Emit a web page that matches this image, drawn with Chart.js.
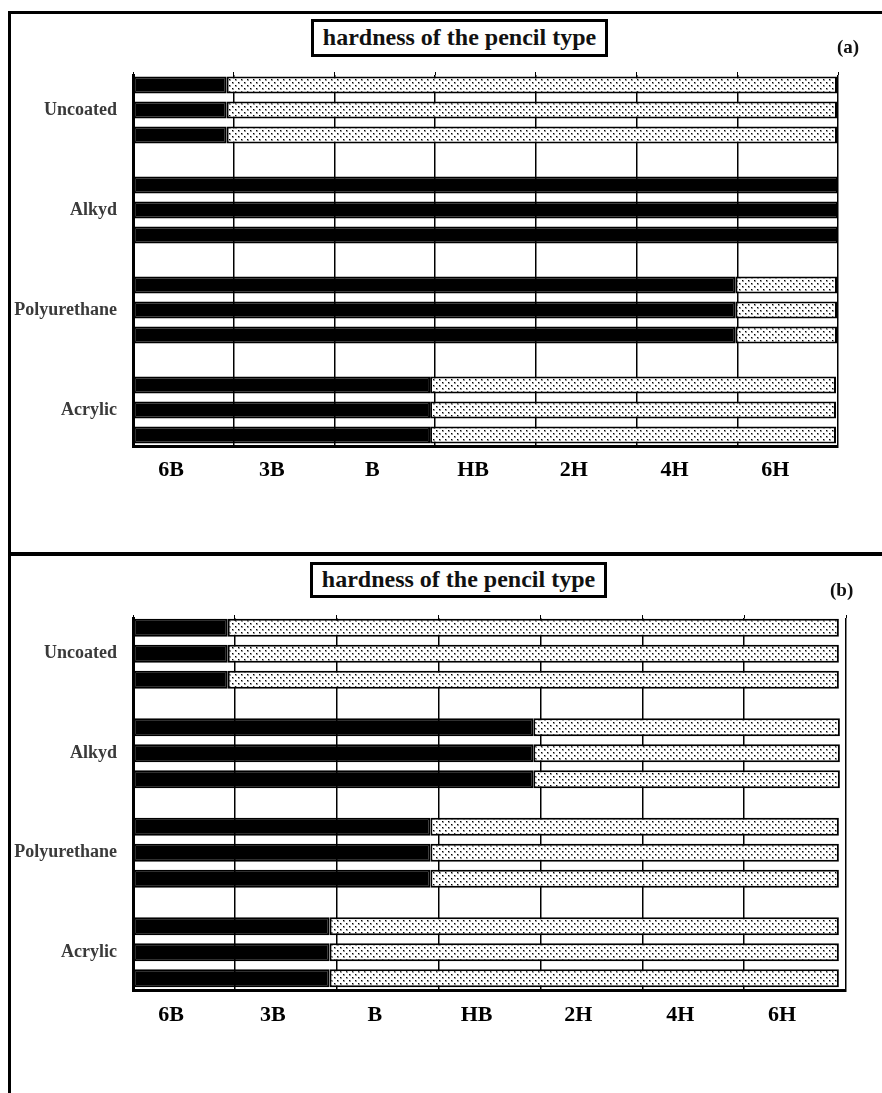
<!DOCTYPE html>
<html>
<head>
<meta charset="utf-8">
<script src="https://cdn.jsdelivr.net/npm/chart.js@4.4.1/dist/chart.umd.min.js"></script>
<style>
  html, body { margin: 0; padding: 0; background: #fff; overflow: hidden; }
  body { width: 882px; height: 1093px; position: relative; font-family: "Liberation Serif", serif; }
  .frame { position: absolute; border-left: 3px solid #000; }
  .title {
    position: absolute; box-sizing: border-box; border: 3px solid #000; background: #fff;
    font: bold 24px "Liberation Serif", serif; color: #111; text-align: center; z-index: 2;
  }
  .tag { position: absolute; font: bold 19px "Liberation Serif", serif; color: #111; z-index: 2; }
  canvas { position: absolute; left: 0; z-index: 1; }
</style>
</head>
<body>
<div class="frame" style="left:8px; top:11px; width:900px; height:545px; border-top:3px solid #000;"></div>
<div class="frame" style="left:8px; top:552px; width:900px; height:600px; border-top:4px solid #000;"></div>

<canvas id="chartA" width="882" height="553" style="top:0px;"></canvas>
<canvas id="chartB" width="882" height="540" style="top:553px;"></canvas>

<div class="title" style="left:311px; top:19px; width:297px; height:38px; line-height:31px;">hardness of the pencil type</div>
<div class="tag" style="left:837px; top:36px;">(a)</div>
<div class="title" style="left:310px; top:562px; width:297px; height:36px; line-height:29px;">hardness of the pencil type</div>
<div class="tag" style="left:830px; top:579px;">(b)</div>

<script>
// categories and tick labels
const coatings = ['Uncoated', 'Alkyd', 'Polyurethane', 'Acrylic'];
const hardness = ['6B', '3B', 'B', 'HB', '2H', '4H', '6H'];

// (a) - black part / dotted part of each bar (same for the 3 bars of a coating)
const blackA  = [0.93, 7.00, 5.98, 2.95];
const dottedA = [6.06, 0.00, 1.01, 4.03];

// (b)
const blackB  = [0.93, 3.93, 2.92, 1.93];
const dottedB = [6.00, 3.01, 4.01, 5.00];

const REPS = 3;

function dotPattern(ctx) {
  let tile = document.createElement('canvas');
  tile.width = 6; tile.height = 6;
  let g = tile.getContext('2d');
  g.fillStyle = '#fff';
  g.fillRect(0, 0, 6, 6);
  g.fillStyle = '#999';
  g.fillRect(1, 1, 2, 2);
  g.fillRect(4, 4, 2, 2);
  g.fillStyle = '#000';
  g.fillRect(1, 1, 1, 1);
  g.fillRect(4, 4, 1, 1);
  return ctx.createPattern(tile, 'repeat');
}

function makeChart(id, black, dotted, cfg) {
  let canvas = document.getElementById(id);
  let ctx = canvas.getContext('2d');
  let dots = dotPattern(ctx);

  let datasets = [];
  for (let r = 0; r < REPS; r++) {
    datasets.push({
      label: 'black ' + (r + 1),
      data: black.map((v, i) => ({ x: v, y: i })),
      stack: 'r' + r,
      xAxisID: 'x', yAxisID: 'y',
      backgroundColor: '#000',
      borderColor: '#000',
      borderWidth: 2,
      borderSkipped: false,
      categoryPercentage: cfg.catPct,
      barPercentage: cfg.barPct
    });
    datasets.push({
      label: 'dotted ' + (r + 1),
      data: dotted.map((v, i) => ({ x: v, y: i })),
      stack: 'r' + r,
      xAxisID: 'x', yAxisID: 'y',
      backgroundColor: dots,
      borderColor: '#000',
      borderWidth: 2,
      borderSkipped: false,
      categoryPercentage: cfg.catPct,
      barPercentage: cfg.barPct
    });
  }

  return new Chart(ctx, {
    type: 'bar',
    data: { datasets: datasets },
    options: {
      indexAxis: 'y',
      responsive: false,
      animation: false,
      events: [],
      layout: { padding: { left: 0, right: cfg.padRight, top: cfg.padTop, bottom: 0 } },
      plugins: { legend: { display: false }, tooltip: { enabled: false }, title: { display: false } },
      scales: {
        x: {
          type: 'linear', position: 'bottom', stacked: true,
          min: 0, max: 7,
          afterFit: (s) => { s.height = cfg.xHeight; },
          grid: { color: '#000', lineWidth: 1.5, drawTicks: false },
          border: { display: true, color: '#000', width: 3 },
          ticks: {
            stepSize: 1, autoSkip: false, maxRotation: 0,
            padding: cfg.xPad, labelOffset: 38,
            color: '#000',
            font: { family: 'Liberation Serif', size: 22, weight: 'bold' },
            callback: (v, i) => hardness[i] ?? ''
          }
        },
        xt: {
          type: 'linear', position: 'top',
          min: 0, max: 7,
          afterFit: (s) => { s.height = 3; },
          grid: { color: '#000', lineWidth: 1, drawOnChartArea: false, tickLength: 3 },
          border: { display: false },
          ticks: { display: false, stepSize: 1 }
        },
        y: {
          type: 'linear', position: 'left', reverse: true, offset: false,
          min: cfg.yMin, max: cfg.yMax,
          afterBuildTicks: (s) => { s.ticks = coatings.map((c, i) => ({ value: i })); },
          afterFit: (s) => { s.width = 133; },
          grid: { display: false, drawTicks: false },
          border: { display: true, color: '#000', width: 3 },
          ticks: {
            padding: 16,
            color: '#3a3a3a',
            font: { family: 'Liberation Serif', size: 18, weight: 'bold' },
            callback: (v) => coatings[v] ?? ''
          }
        }
      }
    }
  });
}

makeChart('chartA', blackA, dottedA, {
  padTop: 72, padRight: 44, xHeight: 107, xPad: 11,
  yMin: -0.35, yMax: 3.36, catPct: 0.75, barPct: 0.68
});

makeChart('chartB', blackB, dottedB, {
  padTop: 62, padRight: 36, xHeight: 103, xPad: 12,
  yMin: -0.36, yMax: 3.38, catPct: 0.785, barPct: 0.69
});
</script>
</body>
</html>
